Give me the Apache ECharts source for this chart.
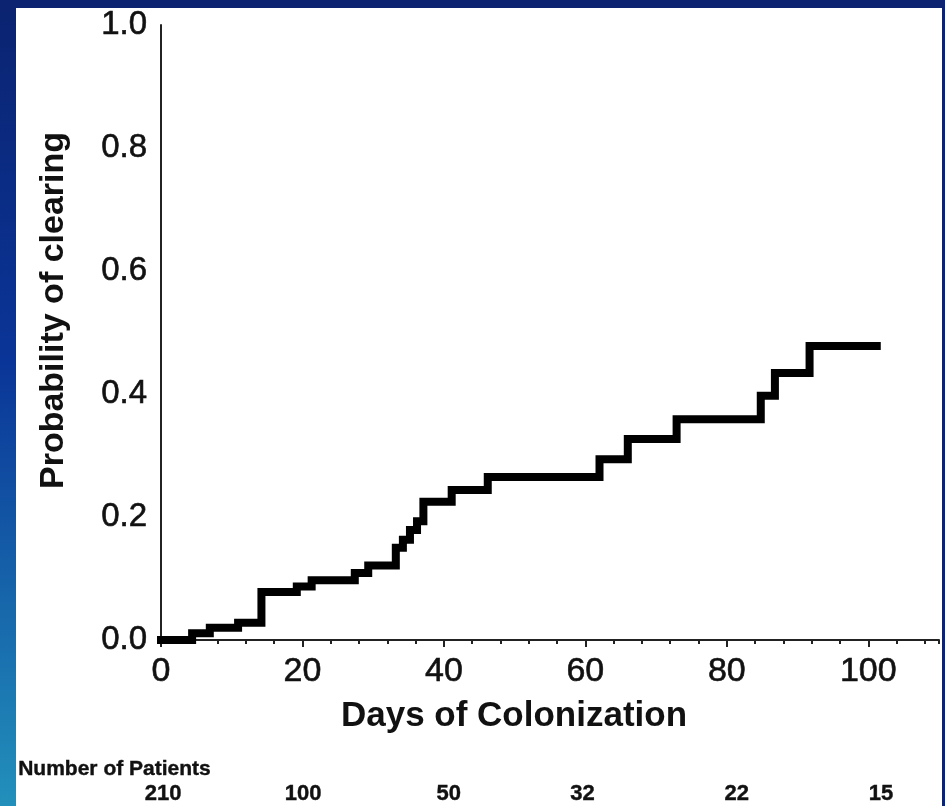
<!DOCTYPE html>
<html><head><meta charset="utf-8">
<script src="https://cdn.jsdelivr.net/npm/echarts@6/dist/echarts.min.js"></script>
<style>html,body{margin:0;padding:0;background:#0b2370;}#c{width:945px;height:806px;}</style>
</head><body><div id="c"></div>
<script>
// Kaplan-Meier step curve: day of event and probability after the step
const days = [0, 4.4, 6.9, 10.9, 14.2, 19.2, 21.3, 27.4, 29.3, 33.2, 34.2, 35.2, 36.2, 37.1, 41.1, 46.2, 62, 66, 72.9, 84.8, 86.8, 91.7, 101.2];
const probClear = [0, 0.011, 0.02, 0.028, 0.078, 0.087, 0.097, 0.109, 0.121, 0.15, 0.163, 0.179, 0.193, 0.225, 0.244, 0.265, 0.294, 0.327, 0.359, 0.397, 0.434, 0.478, 0.478];
const xTickLabels = [0, 20, 40, 60, 80, 100];
const yTickLabels = [0.0, 0.2, 0.4, 0.6, 0.8, 1.0];
const patientDays = [0.3, 20.1, 40.7, 59.6, 81.4, 101.8];
const patientCounts = [210, 100, 50, 32, 22, 15];

const FONT = '"Liberation Sans", Arial, Helvetica, sans-serif';
const chart = echarts.init(document.getElementById('c'), null, {renderer: 'canvas'});
const W = 945, H = 806;

const option = {
  animation: false,
  backgroundColor: 'transparent',
  graphic: [
    {type: 'rect', z: -10, shape: {x: 0, y: 0, width: W, height: H}, style: {fill: '#0b2370'}},
    {type: 'rect', z: -9, shape: {x: 0, y: 0, width: 16, height: H},
      style: {fill: new echarts.graphic.LinearGradient(0, 0, 0, 1, [
        {offset: 0, color: '#0b2370'}, {offset: 0.45, color: '#0a3598'}, {offset: 1, color: '#2290bb'}])}},
    {type: 'rect', z: -8, shape: {x: 16, y: 8, width: 926, height: H - 8}, style: {fill: '#ffffff'}},
    {type: 'text', left: 18, top: 759, style: {text: 'Number of Patients', font: 'bold 21px ' + FONT, fill: '#111', stroke: '#111', lineWidth: 0.4}}
  ],
  grid: {left: 161, right: 6, top: 25, bottom: 166, containLabel: false},
  xAxis: [{
    type: 'value', min: 0, max: 110, interval: 20,
    axisLine: {show: true, lineStyle: {color: '#222', width: 2}},
    axisTick: {show: true, length: 7, lineStyle: {color: '#222', width: 2}},
    splitLine: {show: false},
    axisLabel: {
      margin: 15, color: '#111', fontFamily: FONT, fontSize: 34, showMaxLabel: false,
      textBorderColor: '#111', textBorderWidth: 0.6,
      formatter: v => xTickLabels.indexOf(v) >= 0 ? String(v) : ''
    },
    name: 'Days of Colonization', nameLocation: 'middle', nameGap: 59,
    nameTextStyle: {color: '#111', fontFamily: FONT, fontSize: 35, fontWeight: 'bold', padding: [0, 72, 0, 0]}
  }, {
    type: 'value', min: 0, max: 110, interval: 4, position: 'bottom',
    axisLine: {show: false},
    axisTick: {show: true, length: 4, lineStyle: {color: '#222', width: 2}},
    axisLabel: {show: false}, splitLine: {show: false}
  }],
  yAxis: {
    type: 'value', min: 0, max: 1, interval: 0.2,
    axisLine: {show: true, lineStyle: {color: '#222', width: 2}},
    axisTick: {show: false},
    splitLine: {show: false},
    axisLabel: {margin: 14, color: '#111', fontFamily: FONT, fontSize: 33,
      textBorderColor: '#111', textBorderWidth: 0.6,
      formatter: v => v.toFixed(1)},
    name: 'Probability of clearing', nameLocation: 'middle', nameGap: 90,
    nameTextStyle: {color: '#111', fontFamily: FONT, fontSize: 34, fontWeight: 'bold', padding: [0, 0, 0, 44]}
  },
  series: [{
    type: 'line', step: 'end', xAxisIndex: 0, showSymbol: false, symbol: 'none',
    lineStyle: {color: '#000', width: 8, cap: 'square', join: 'miter'},
    data: days.map((d, i) => [d, probClear[i]]),
    clip: false
  }]
};
chart.setOption(option);

// patient counts under the chart, positioned by the x scale
const extra = patientCounts.map((n, i) => {
  const px = chart.convertToPixel({xAxisIndex: 0}, patientDays[i]);
  return {type: 'text', x: px, y: 794, style: {text: String(n), font: 'bold 22px ' + FONT, fill: '#111', stroke: '#111', lineWidth: 0.4, align: 'center', verticalAlign: 'middle'}};
});
chart.setOption({graphic: option.graphic.concat(extra)});
</script>
</body></html>
